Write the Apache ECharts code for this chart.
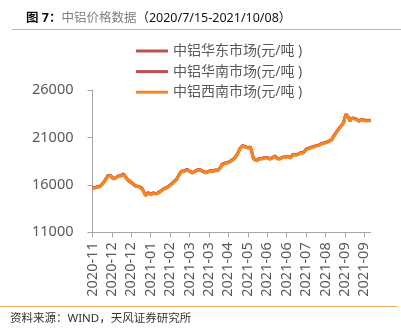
<!DOCTYPE html>
<html>
<head>
<meta charset="utf-8">
<script src="https://cdn.jsdelivr.net/npm/echarts@6/dist/echarts.min.js"></script>
<style>
  html, body { margin: 0; padding: 0; background: #ffffff; }
  #chart { width: 401px; height: 334px; }
</style>
</head>
<body>
<div id="chart"></div>
<script>
// Aluminium spot prices, yuan per tonne, one value per trading day
const seriesNames = ['中铝华东市场(元/吨 )', '中铝华南市场(元/吨 )', '中铝西南市场(元/吨 )'];

const firstDay = '2020-11-17';
const lastDay = '2021-10-08';
// Exchange holidays falling on weekdays inside the range
const closedDays = [
  '2021-01-01', '2021-02-11', '2021-02-12', '2021-02-15', '2021-02-16', '2021-02-17',
  '2021-04-05', '2021-05-03', '2021-05-04', '2021-05-05', '2021-06-14',
  '2021-09-20', '2021-09-21', '2021-10-01', '2021-10-04', '2021-10-05', '2021-10-06', '2021-10-07'
];

const eastPrice = [
  15690,15670,15700,15720,15780,15830,15870,15970,16140,16320,
  16530,16740,16990,17190,16950,16740,16660,16650,16740,16800,
  16920,16900,16970,17060,17140,16930,16740,16600,16390,16350,
  16280,16140,16000,15890,15850,15860,15800,15740,15690,15440,
  15160,14890,15020,15160,15070,14990,15050,15140,15110,15060,
  15120,15170,15230,15370,15510,15570,15640,15690,15780,15860,
  15950,16080,16220,16340,16460,16570,16840,17090,17290,17440,
  17270,17440,17540,17620,17520,17440,17340,17270,17340,17400,
  17440,17560,17690,17590,17500,17440,17370,17310,17270,17360,
  17440,17480,17420,17440,17500,17550,17500,17530,17520,17840,
  18150,18200,18260,18290,18330,18380,18440,18500,18620,18740,
  18850,19030,19240,19540,19840,19960,20120,20080,20020,19940,
  19910,19960,19980,19550,18940,18680,18620,18570,18690,18780,
  18850,18760,18680,18860,19030,18860,18680,18740,18800,18850,
  18940,19030,18900,18760,18680,18760,18850,18920,18890,18920,
  18970,19000,19030,18850,19040,19210,19180,19160,19140,19240,
  19320,19380,19210,19390,19560,19730,19790,19840,19880,19940,
  19980,20030,20080,20120,20160,20190,20260,20330,20360,20410,
  20440,20500,20550,20610,20700,20790,21040,21240,21460,21660,
  21840,22020,22190,22370,22550,23080,23430,23240,23080,22720,
  23000,22900,23020,23140,22900,22800,22720,22820,22900,22840,
  22800,22790,22780,22800,22790,22790
];

const southPrice = [
  15700,15690,15720,15740,15800,15850,15880,15990,16160,16340,
  16540,16760,17010,17210,16960,16760,16680,16660,16760,16820,
  16940,16910,16990,17080,17160,16940,16760,16620,16410,16360,
  16300,16160,16020,15910,15860,15880,15820,15760,15710,15460,
  15180,14900,15040,15180,15090,15010,15070,15160,15120,15080,
  15140,15190,15250,15390,15530,15590,15660,15710,15800,15880,
  15960,16100,16240,16360,16480,16590,16860,17110,17310,17460,
  17290,17460,17560,17640,17540,17460,17360,17290,17360,17420,
  17460,17580,17710,17610,17520,17460,17390,17330,17290,17380,
  17460,17500,17440,17460,17520,17570,17520,17550,17540,17860,
  18170,18220,18280,18310,18350,18400,18460,18520,18640,18760,
  18870,19050,19260,19560,19860,19980,20140,20100,20040,19960,
  19930,19980,20000,19570,18960,18700,18640,18590,18710,18800,
  18870,18780,18700,18880,19050,18880,18700,18760,18820,18870,
  18960,19050,18920,18780,18700,18780,18870,18940,18910,18940,
  18990,19020,19050,18870,19060,19230,19200,19180,19160,19260,
  19340,19400,19230,19410,19580,19750,19810,19860,19900,19960,
  20000,20050,20100,20140,20180,20210,20280,20350,20380,20430,
  20460,20520,20570,20630,20720,20810,21060,21260,21480,21680,
  21860,22040,22210,22390,22570,23100,23450,23260,23100,22740,
  23020,22920,23040,23160,22920,22820,22740,22840,22920,22860,
  22820,22810,22800,22820,22810,22810
];

const southwestPrice = [
  15650,15620,15660,15680,15740,15790,15820,15930,16100,16280,
  16480,16700,16950,17150,16900,16700,16620,16600,16700,16760,
  16880,16850,16930,17020,17100,16880,16700,16560,16350,16300,
  16240,16100,15960,15850,15800,15820,15760,15700,15650,15400,
  15120,14840,14980,15120,15030,14950,15010,15100,15060,15020,
  15080,15130,15190,15330,15470,15530,15600,15650,15740,15820,
  15900,16040,16180,16300,16420,16530,16800,17050,17250,17400,
  17230,17400,17500,17580,17480,17400,17300,17230,17300,17360,
  17400,17520,17650,17550,17460,17400,17330,17270,17230,17320,
  17400,17440,17380,17400,17460,17510,17460,17490,17480,17800,
  18110,18160,18220,18250,18290,18340,18400,18460,18580,18700,
  18810,18990,19200,19500,19800,19920,20080,20040,19980,19900,
  19870,19920,19940,19510,18900,18640,18580,18530,18650,18740,
  18810,18720,18640,18820,18990,18820,18640,18700,18760,18810,
  18900,18990,18860,18720,18640,18720,18810,18880,18850,18880,
  18930,18960,18990,18810,19000,19170,19140,19120,19100,19200,
  19280,19340,19170,19350,19520,19690,19750,19800,19840,19900,
  19940,19990,20040,20080,20120,20150,20220,20290,20320,20370,
  20400,20460,20510,20570,20660,20750,21000,21200,21420,21620,
  21800,21980,22150,22330,22510,23040,23390,23200,23040,22680,
  22960,22860,22980,23100,22860,22760,22680,22780,22860,22800,
  22760,22750,22740,22760,22750,22750
];

const yMin = 11000, yMax = 26000, yStep = 5000;

// Weekdays between the two dates, minus the holidays
function tradingDays(from, to, closed) {
  const out = [];
  const shut = new Set(closed);
  const d = new Date(from + 'T00:00:00Z');
  const end = new Date(to + 'T00:00:00Z');
  while (d <= end) {
    const wd = d.getUTCDay();
    const iso = d.toISOString().slice(0, 10);
    if (wd !== 0 && wd !== 6 && !shut.has(iso)) out.push(iso);
    d.setUTCDate(d.getUTCDate() + 1);
  }
  return out;
}
const dates = tradingDays(firstDay, lastDay, closedDays);

const latin = '"Noto Sans", "Noto Sans CJK SC", sans-serif';
const chart = echarts.init(document.getElementById('chart'), null, { renderer: 'canvas' });

const lineColors = ['#C0504D', '#C0504D', '#F7861F'];
const values = [eastPrice, southPrice, southwestPrice];

chart.setOption({
  animation: false,
  backgroundColor: '#ffffff',
  title: {
    left: 21,
    top: 7,
    text: '{a|图 7：}{b|中铝价格数据}{c|（2020/7/15-2021/10/08）}',
    textStyle: {
      fontWeight: 'normal',
      rich: {
        a: { fontSize: 12.5, color: '#111111', fontWeight: 'bold', fontFamily: latin },
        b: { fontSize: 12.5, color: '#808080', fontWeight: 'normal', fontFamily: latin },
        c: { fontSize: 12.5, color: '#111111', fontWeight: 'normal', fontFamily: latin }
      }
    }
  },
  legend: {
    orient: 'vertical',
    left: 131,
    top: 39,
    itemWidth: 32,
    itemHeight: 3,
    itemGap: 6.6,
    icon: 'rect',
    textStyle: { fontSize: 14, color: '#595959', fontFamily: latin },
    data: seriesNames
  },
  grid: { left: 92.5, right: 30.3, top: 90, bottom: 101.7 },
  xAxis: {
    type: 'category',
    data: dates,
    boundaryGap: false,
    axisLine: { lineStyle: { color: '#A6A6A6', width: 1 } },
    axisTick: { show: true, interval: 14, length: 5, lineStyle: { color: '#A6A6A6' } },
    axisLabel: {
      interval: 14,
      rotate: 90,
      margin: 10,
      fontSize: 14.5,
      color: '#595959',
      fontFamily: latin,
      formatter: v => v.slice(0, 7)
    },
    splitLine: { show: false }
  },
  yAxis: {
    type: 'value',
    min: yMin,
    max: yMax,
    interval: yStep,
    axisLine: { show: true, lineStyle: { color: '#A6A6A6', width: 1 } },
    axisTick: { show: true, length: 5, lineStyle: { color: '#A6A6A6' } },
    axisLabel: {
      margin: 19, fontSize: 14.5, color: '#595959', fontFamily: latin,
      formatter: v => String(v)
    },
    splitLine: { show: false }
  },
  graphic: [
    { type: 'line', shape: { x1: 12, y1: 29.5, x2: 401, y2: 29.5 }, style: { stroke: '#F7A964', lineWidth: 1.2 } },
    { type: 'line', shape: { x1: 0, y1: 306.5, x2: 397, y2: 306.5 }, style: { stroke: '#F7A964', lineWidth: 1.2 } },
    {
      type: 'text', left: 10, top: 313,
      style: { text: '资料来源：WIND，天风证券研究所', fontSize: 11.5, fill: '#333333', fontFamily: latin }
    }
  ],
  series: seriesNames.map((name, k) => ({
    name: name,
    type: 'line',
    data: values[k],
    showSymbol: false,
    symbol: 'none',
    z: 2 + k,
    lineStyle: { width: 3, color: lineColors[k] },
    itemStyle: { color: lineColors[k] }
  }))
});
</script>
</body>
</html>
